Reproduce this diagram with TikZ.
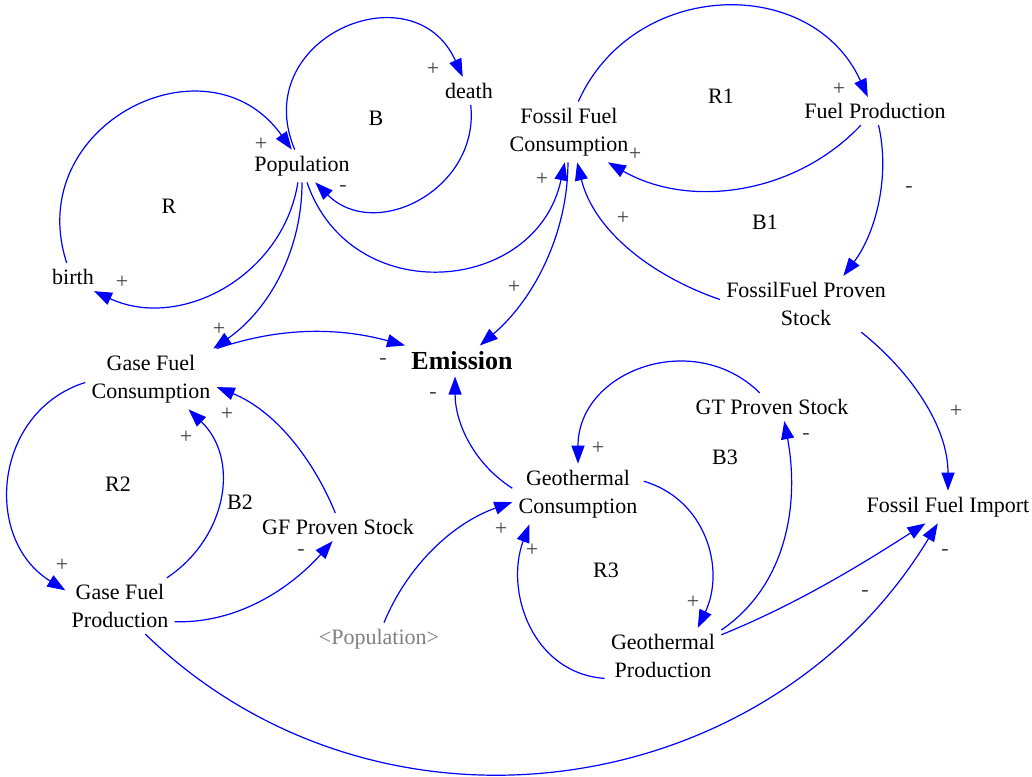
\documentclass[tikz,border=0pt]{standalone}
\usepackage{fontspec}
\setmainfont{Liberation Serif}
\usetikzlibrary{arrows.meta}
\definecolor{lnkblue}{rgb}{0,0,1}
\tikzset{
  var/.style={inner sep=3pt, align=center, font=\fontsize{11}{14}\selectfont},
  lnk/.style={draw=lnkblue, line width=0.6pt, -{Triangle[length=9pt,width=6.5pt]}},
  sgn/.style={inner sep=0pt, font=\fontsize{11}{13}\selectfont, text=black!75},
  loopname/.style={inner sep=0pt, font=\fontsize{11}{14}\selectfont}
}
\begin{document}
\begin{tikzpicture}[x=0.5pt,y=-0.5pt]
\useasboundingbox (0,0) rectangle (1032,776);

% variables
\node[var] (pop) at (302,166) {Population};
\node[var] (death) at (469,91) {death};
\node[var] (birth) at (73,277) {birth};
\node[var] (ffc) at (569,132) {Fossil Fuel\\Consumption};
\node[var] (fp) at (875,111) {Fuel Production};
\node[var] (ffps) at (806,304) {FossilFuel Proven\\Stock};
\node[var, font=\fontsize{13}{16}\selectfont\bfseries] (em) at (462,361) {Emission};
\node[var] (gfc) at (151,379) {Gase Fuel\\Consumption};
\node[var] (gfp) at (120,606) {Gase Fuel\\Production};
\node[var] (gfps) at (338,527) {GF Proven Stock};
\node[var, text=black!50] (popref) at (379,639) {<Population>};
\node[var] (gtps) at (772,407) {GT Proven Stock};
\node[var] (gc) at (578,494) {Geothermal\\Consumption};
\node[var] (gp) at (663,656) {Geothermal\\Production};
\node[var] (ffi) at (948,507) {Fossil Fuel Import};

% loop names
\node[loopname] (loopB) at (376,118) {B};
\node[loopname] (loopR) at (169,206) {R};
\node[loopname] (loopRa) at (721,96) {R1};
\node[loopname] (loopBa) at (765,222) {B1};
\node[loopname] (loopRb) at (118,484) {R2};
\node[loopname] (loopBb) at (240,502) {B2};
\node[loopname] (loopRc) at (606,570) {R3};
\node[loopname] (loopBc) at (725,457) {B3};

% population links
\draw[lnk] (pop.114) .. controls +(-47,-112) and +(-49,-109) .. (death.114);
\draw[lnk] (death.-83) .. controls +(9,84) and +(60,60) .. (pop.-51);
\draw[lnk] (birth.114) .. controls +(-45,-138) and +(-84,-118) .. (pop.122);
\draw[lnk] (pop.-104) .. controls +(-15,94) and +(86,40) .. (birth.-34);
\draw[lnk] (pop.south) .. controls +(0,68) and +(56,-39) .. (gfc.26);
\draw[lnk] (pop.-73) .. controls +(44,128) and +(-28,132) .. (ffc.-98);

% fossil fuel
\draw[lnk] (ffc.-92) .. controls +(0,71) and +(54,-46) .. (em.41);
\draw[lnk] (ffps.177) .. controls +(-67,-23) and +(17,69) .. (ffc.-75);
\draw[lnk] (ffc.73) .. controls +(55,-123) and +(-56,-123) .. (fp.117);
\draw[lnk] (fp.-135) .. controls +(-65,69) and +(82,47) .. (ffc.-38);
\draw[lnk] (fp.-76) .. controls +(12,52) and +(32,-42) .. (ffps.37);
\draw[lnk] (ffps.-27) .. controls +(50,40) and +(0,-64) .. (ffi.north);

% gas fuel
\draw[lnk] (gfc.north east) .. controls +(64,-22) and +(-66,-18) .. (em.north west);
\draw[lnk] (gfc.183) .. controls +(-92,29) and +(-83,-51) .. (gfp.164);
\draw[lnk] (gfp.31) .. controls +(60,-40) and +(52,50) .. (gfc.-39);
\draw[lnk] (gfps.101) .. controls +(-23,-56) and +(57,23) .. (gfc.-7);
\draw[lnk] (gfp.-16) .. controls +(63,2) and +(-42,47) .. (gfps.-111);
\draw[lnk] (gfp.-48) .. controls +(234,227) and +(-170,280) .. (ffi.-122);

% geothermal
\draw[lnk] (gc.175) .. controls +(-39,-25) and +(0,46) .. (em.-114);
\draw[lnk] (popref.73) .. controls +(24,-58) and +(-59,21) .. (gc.187);
\draw[lnk] (gp.201) .. controls +(-72,-5) and +(-25,67) .. (gc.-148);
\draw[lnk] (gc.11) .. controls +(62,18) and +(28,-59) .. (gp.39);
\draw[lnk] (gp.24) .. controls +(67,-46) and +(15,80) .. (gtps.-49);
\draw[lnk] (gp.20) .. controls +(74,-30) and +(-67,43) .. (ffi.-144);
\draw[lnk] (gtps.131) .. controls +(-66,-65) and +(0,-93) .. (gc.north);

% polarities
\foreach \x/\y/\s [count=\i] in {433/69/+, 343/188/-, 261/144/+, 122/282/+,
    219/329/+, 542/179/+, 514/287/+, 623/218/+, 839/89/+, 635/154/+,
    909/189/-, 956/411/+, 383/361/-, 433/395/-, 62/565/+, 186/437/+,
    227/414/+, 301/552/-, 945/552/-, 501/529/+, 532/550/+, 693/602/+,
    806/436/-, 865/593/-, 598/448/+}
  \node[sgn] (sg\i) at (\x,\y) {\s};

\end{tikzpicture}
\end{document}
